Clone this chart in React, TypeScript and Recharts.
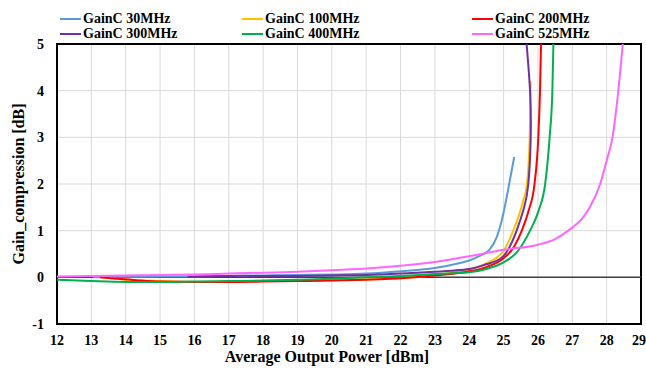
import React from 'react';
import { LineChart, Line, XAxis, YAxis, CartesianGrid, ReferenceLine, ReferenceArea } from 'recharts';

const xTicks = [12, 13, 14, 15, 16, 17, 18, 19, 20, 21, 22, 23, 24, 25, 26, 27, 28, 29];
const yTicks = [-1, 0, 1, 2, 3, 4, 5];

const x30 = [13.05, 14, 15, 16, 17, 18, 19, 20, 21, 22, 23, 23.7, 24, 24.3, 24.6, 24.8, 24.94, 25.07, 25.2, 25.31];
const y30 = [0, 0.01, 0.02, 0.02, 0.03, 0.04, 0.05, 0.06, 0.08, 0.13, 0.2, 0.3, 0.36, 0.46, 0.6, 0.86, 1.2, 1.64, 2.15, 2.58];

const x100 = [13.3, 14, 15, 16, 17, 18, 19, 20, 21, 22, 23, 24, 24.5, 25, 25.28, 25.57, 25.68, 25.76, 25.79];
const y100 = [0, -0.05, -0.08, -0.1, -0.09, -0.08, -0.07, -0.06, -0.04, -0.02, 0.05, 0.17, 0.3, 0.57, 1.0, 1.64, 2.0, 3.0, 4.2];

const x200 = [13.25, 14.3, 15, 16, 17, 18, 19, 20, 21, 22, 23, 24, 24.5, 25, 25.3, 25.53, 25.73, 25.9, 26.01, 26.06, 26.09];
const y200 = [0, -0.06, -0.09, -0.1, -0.1, -0.09, -0.08, -0.07, -0.05, -0.02, 0.04, 0.13, 0.22, 0.41, 0.65, 1.0, 1.43, 2.0, 3.0, 4.0, 5.0];

const x300 = [15.8, 17, 18, 19, 20, 21, 22, 23, 24, 24.5, 25, 25.38, 25.6, 25.72, 25.79, 25.77, 25.67];
const y300 = [0.01, 0.03, 0.03, 0.03, 0.04, 0.05, 0.08, 0.12, 0.18, 0.28, 0.46, 1.0, 1.5, 2.0, 3.0, 4.0, 5.0];

const x400 = [12, 13, 14, 14.7, 16, 17, 18, 19, 20, 21, 22, 23, 24, 24.5, 25, 25.4, 25.77, 26.02, 26.21, 26.34, 26.42, 26.45];
const y400 = [-0.05, -0.08, -0.1, -0.1, -0.09, -0.08, -0.07, -0.05, -0.03, 0, 0.03, 0.07, 0.11, 0.18, 0.32, 0.55, 1.0, 1.43, 2.0, 3.0, 4.0, 5.0];

const x525 = [12, 13, 14, 15, 16, 17, 18, 19, 20, 21, 22, 23, 24, 25, 26, 26.5, 26.88, 27.32, 27.51, 27.81, 28.0, 28.17, 28.34, 28.47];
const y525 = [0.02, 0.03, 0.04, 0.05, 0.06, 0.08, 0.1, 0.12, 0.15, 0.19, 0.25, 0.33, 0.45, 0.59, 0.7, 0.82, 1.0, 1.29, 1.5, 2.0, 2.5, 3.0, 4.0, 5.0];

const toPoints = (xs: number[], ys: number[]) => xs.map((x, i) => ({ x, y: ys[i] }));

const series = [
  { name: 'GainC 30MHz', color: '#5B9BD5', data: toPoints(x30, y30), type: 'monotone' },
  { name: 'GainC 100MHz', color: '#FFC000', data: toPoints(x100, y100), type: 'monotone' },
  { name: 'GainC 200MHz', color: '#FF0000', data: toPoints(x200, y200), type: 'monotone' },
  { name: 'GainC 300MHz', color: '#7030A0', data: toPoints(x300, y300), type: 'natural' },
  { name: 'GainC 400MHz', color: '#00B050', data: toPoints(x400, y400), type: 'monotone' },
  { name: 'GainC 525MHz', color: '#FF66FF', data: toPoints(x525, y525), type: 'monotone' },
];

// legend grid: 3 columns x 2 rows
const legendCols = [60, 242, 472];
const legendRows = [19, 34];

const font = '"Liberation Serif", "Times New Roman", serif';

const XTick = ({ x, y, payload }: any) => {
  const last = payload.value === 29;
  return (
    <text
      x={last ? 646 : x}
      y={y}
      dy="0.71em"
      textAnchor={last ? 'end' : 'middle'}
      fill="#000"
      fontSize={14}
      fontWeight="bold"
      fontFamily={font}
    >
      {payload.value}
    </text>
  );
};

export default function App() {
  return (
    <div style={{ position: 'absolute', left: 0, top: 0, width: 646, height: 370, background: '#fff', fontFamily: font }}>
      {series.map((s, i) => {
        const col = [0, 1, 2, 0, 1, 2][i];
        const row = i < 3 ? 0 : 1;
        return (
          <div
            key={s.name}
            style={{
              position: 'absolute',
              left: legendCols[col],
              top: legendRows[row] - 8,
              height: 16,
              display: 'flex',
              alignItems: 'center',
              fontSize: 14,
              fontWeight: 'bold',
              whiteSpace: 'nowrap',
            }}
          >
            <span style={{ display: 'inline-block', width: 21, height: 2, background: s.color, marginRight: 2 }} />
            <span>{s.name}</span>
          </div>
        );
      })}
      <LineChart width={646} height={370} margin={{ top: 44, right: 5, bottom: 0, left: 0 }}>
        <CartesianGrid stroke="#d9d9d9" strokeWidth={1} />
        <XAxis
          type="number"
          dataKey="x"
          domain={[12, 29]}
          ticks={xTicks}
          interval={0}
          allowDataOverflow
          height={46}
          tickLine={false}
          axisLine={false}
          tickSize={0}
          tickMargin={11}
          tick={<XTick />}
          label={{
            content: ({ viewBox }: any) => (
              <text
                x={327}
                y={viewBox.y + 38}
                textAnchor="middle"
                fontSize={16}
                fontWeight="bold"
                fontFamily={font}
                fill="#000"
              >
                Average Output Power [dBm]
              </text>
            ),
          }}
        />
        <YAxis
          type="number"
          dataKey="y"
          domain={[-1, 5]}
          ticks={yTicks}
          interval={0}
          allowDataOverflow
          width={57}
          tickLine={false}
          axisLine={false}
          tickSize={0}
          tickMargin={13}
          tick={{ fill: '#000', fontSize: 14, fontWeight: 'bold', fontFamily: font }}
          label={{
            content: ({ viewBox }: any) => {
              const cy = viewBox.y + viewBox.height / 2;
              return (
                <text
                  x={18}
                  y={cy}
                  transform={`rotate(-90, 18, ${cy})`}
                  textAnchor="middle"
                  dominantBaseline="central"
                  fontSize={16}
                  fontWeight="bold"
                  fontFamily={font}
                  fill="#000"
                >
                  Gain_compression [dB]
                </text>
              );
            },
          }}
        />
        <ReferenceLine y={0} stroke="#404040" strokeWidth={1.5} />
        {series.map((s) => (
          <Line
            key={s.name}
            data={s.data}
            dataKey="y"
            name={s.name}
            type={s.type as any}
            stroke={s.color}
            strokeWidth={2}
            dot={false}
            isAnimationActive={false}
          />
        ))}
        <ReferenceArea x1={12} x2={29} y1={-1} y2={5} fill="none" stroke="#000" strokeWidth={2} />
      </LineChart>
    </div>
  );
}
